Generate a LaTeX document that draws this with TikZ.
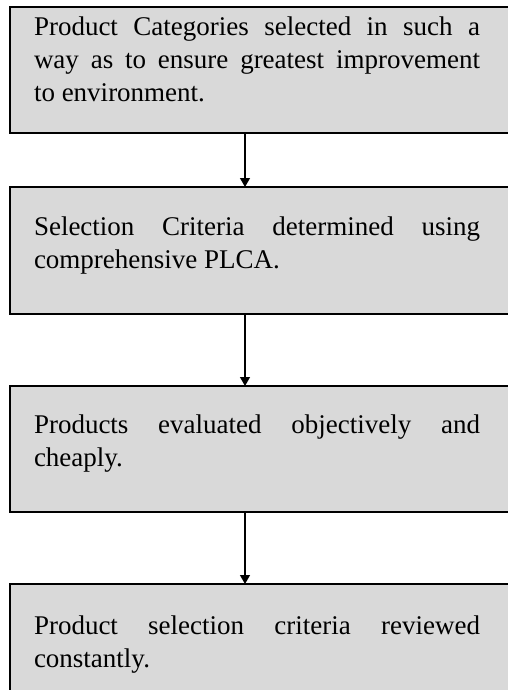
\documentclass[tikz,border=0pt]{standalone}
\usepackage{fontspec}
\setmainfont{Liberation Serif}
\usetikzlibrary{arrows.meta}
\definecolor{boxgray}{RGB}{217,217,217}
\hbadness=10000
\newcommand{\boxtext}[3]{\parbox[c][#1][t]{446pt}{\vspace*{#2}#3}\hspace*{60pt}}
\newcommand{\fl}[1]{\makebox[\linewidth][s]{#1}}
\tikzset{
  stepbox/.style={draw=black, fill=boxgray, line width=1.6pt, inner xsep=24pt,
    inner ysep=0pt, outer sep=0pt, anchor=north west,
    font=\fontsize{27pt}{33pt}\selectfont},
  flowarrow/.style={draw=black, line width=1.2pt, -{Triangle[width=10pt,length=9pt]}}
}
\begin{document}
\begin{tikzpicture}[x=1pt,y=1pt]
\useasboundingbox (0,0) rectangle (507,-690);
\node[stepbox] (b1) at (10,-7) {\boxtext{126pt}{5.9pt}{\noindent\strut\fl{Product Categories selected in such a}\\\fl{way as to ensure greatest improvement}\\to environment.}};
\node[stepbox] (b2) at (10,-187) {\boxtext{127pt}{25pt}{\noindent\strut\fl{Selection Criteria determined using}\\comprehensive PLCA.}};
\node[stepbox] (b3) at (10,-386) {\boxtext{126pt}{24.5pt}{\noindent\strut\fl{Products evaluated objectively and}\\cheaply.}};
\node[stepbox] (b4) at (10,-584) {\boxtext{130pt}{26.9pt}{\noindent\strut\fl{Product selection criteria reviewed}\\constantly.}};
\coordinate (ax) at (245,0);
\draw[flowarrow] (ax |- b1.south) -- (ax |- b2.north);
\draw[flowarrow] (ax |- b2.south) -- (ax |- b3.north);
\draw[flowarrow] (ax |- b3.south) -- (ax |- b4.north);
\end{tikzpicture}
\end{document}
